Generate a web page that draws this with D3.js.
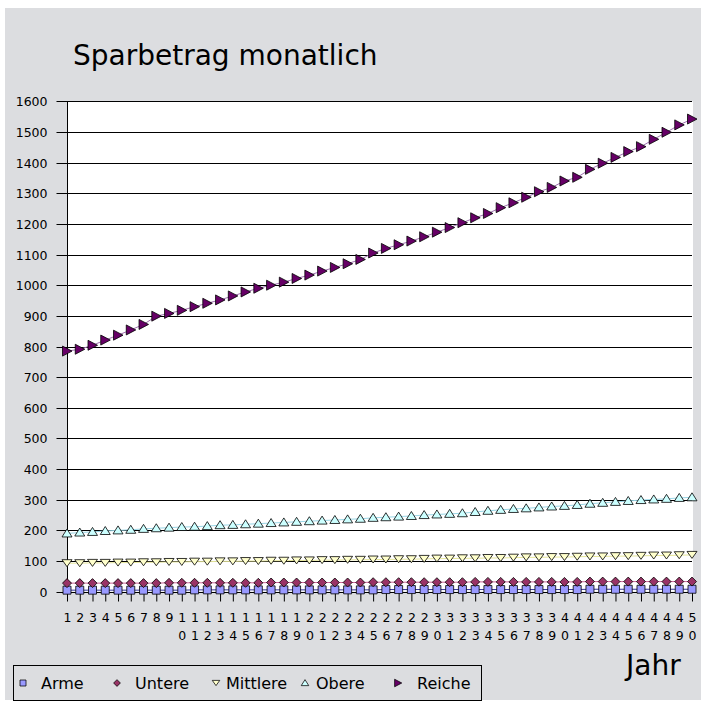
<!DOCTYPE html>
<html>
<head>
<meta charset="utf-8">
<script src="https://cdn.jsdelivr.net/npm/d3@7"></script>
<style>
body { margin: 0; background: #fff; }
text { font-family: "DejaVu Sans", sans-serif; fill: #000; }
</style>
</head>
<body>
<script>
// categories (Jahr 1..50)
let jahre = d3.range(1, 51);
let yTicks = [0, 100, 200, 300, 400, 500, 600, 700, 800, 900, 1000, 1100, 1200, 1300, 1400, 1500, 1600];

let arme = [5, 5, 5, 5, 5, 5, 5, 5, 5, 5, 6, 6, 6, 6, 6, 6, 6, 6, 6, 6, 6, 6, 6, 6, 6,
    7, 7, 7, 7, 7, 7, 7, 7, 7, 7, 7, 7, 7, 7, 7, 7, 8, 8, 8, 8, 8, 8, 8, 8, 8];
let untere = [28, 28, 28, 28, 28, 28, 28, 28, 29, 29, 29, 29, 29, 29, 29, 29, 30, 30, 30, 30, 30, 30, 30, 30, 31,
    31, 31, 31, 31, 31, 31, 31, 32, 32, 32, 32, 32, 32, 32, 32, 32, 33, 33, 33, 33, 33, 33, 33, 33, 33];
let mittlere = [93, 93, 94, 94, 95, 95, 96, 96, 97, 97, 98, 98, 99, 99, 100, 100, 101, 101, 102, 102, 103, 103, 104, 104, 105,
    105, 106, 106, 107, 108, 108, 109, 109, 110, 110, 111, 112, 112, 113, 113, 114, 115, 115, 116, 116, 117, 118, 118, 119, 120];
let obere = [190, 193, 195, 198, 200, 202, 205, 207, 209, 211, 212, 214, 217, 218, 220, 222, 224, 226, 228, 230, 232, 234, 236, 238, 241,
    243, 245, 247, 250, 252, 254, 256, 260, 264, 267, 270, 272, 275, 278, 280, 283, 287, 290, 293, 296, 299, 301, 303, 306, 308];
let reiche = [785, 791, 804, 821, 837, 854, 872, 899, 908, 918, 930, 941, 952, 965, 978, 990, 1000, 1010, 1022, 1033, 1046, 1058, 1070, 1084, 1105,
    1120, 1132, 1144, 1158, 1173, 1188, 1204, 1220, 1234, 1253, 1269, 1287, 1305, 1319, 1340, 1352, 1378, 1398, 1417, 1436, 1452, 1476, 1499, 1523, 1542];

let series = [
    {name: "Arme", values: arme, shape: "square", fill: "#9999ff", line: "#333399"},
    {name: "Untere", values: untere, shape: "diamond", fill: "#993366", line: "#cc6699"},
    {name: "Mittlere", values: mittlere, shape: "down", fill: "#ffffcc", line: "#e6e69a"},
    {name: "Obere", values: obere, shape: "up", fill: "#ccffff", line: "#99d6e6"},
    {name: "Reiche", values: reiche, shape: "right", fill: "#660066", line: "#a070b0"}
];

let size = {width: 701, height: 713};
let plot = {left: 67, right: 692, top: 101.3, bottom: 591.7};

let svg = d3.select("body").append("svg")
    .attr("width", size.width)
    .attr("height", size.height);

svg.append("rect")
    .attr("x", 5).attr("y", 8)
    .attr("width", 696).attr("height", 692)
    .attr("fill", "#dcdde0");

svg.append("rect")
    .attr("x", plot.left).attr("y", plot.top)
    .attr("width", plot.right - plot.left + 1).attr("height", plot.bottom - plot.top)
    .attr("fill", "#fff");

let x = d3.scalePoint()
    .domain(jahre)
    .range([plot.left, plot.right]);

let y = d3.scaleLinear()
    .domain([0, 1600])
    .range([plot.bottom, plot.top]);

// gridlines
svg.append("g")
    .selectAll("line")
    .data(yTicks)
    .join("line")
    .attr("x1", plot.left).attr("x2", plot.right)
    .attr("y1", d => Math.round(y(d)) + 0.5).attr("y2", d => Math.round(y(d)) + 0.5)
    .attr("stroke", "#000");

let yAxis = g => g
    .attr("transform", `translate(${plot.left + 0.5},0)`)
    .call(d3.axisLeft(y).tickValues(yTicks).tickFormat(d3.format("d")).tickSize(11).tickPadding(9).tickSizeOuter(0))
    .call(g => g.selectAll(".tick").attr("transform", d => `translate(0,${Math.round(y(d)) + 0.5})`))
    .call(g => g.selectAll(".tick text").attr("font-size", 12.5).attr("font-family", "DejaVu Sans").attr("fill", "#000"))
    .call(g => g.select(".domain").attr("d", `M0,${plot.top}V${Math.round(plot.bottom) + 0.5}`));

let xAxis = g => g
    .attr("transform", `translate(0,${Math.round(plot.bottom) + 0.5})`)
    .call(d3.axisBottom(x).tickSize(9).tickPadding(9).tickSizeOuter(0))
    .call(g => g.select(".domain").remove())
    .call(g => g.selectAll(".tick text").remove())
    .call(g => g.selectAll(".tick").append("text")
        .attr("font-size", 12.5)
        .attr("text-anchor", "middle")
        .selectAll("tspan")
        .data(d => String(d).split(""))
        .join("tspan")
        .attr("x", 0)
        .attr("y", (c, i) => 29.5 + i * 18)
        .text(c => c));

svg.append("g").call(xAxis);
svg.append("g").call(yAxis);

svg.append("line")
    .attr("x1", plot.left).attr("x2", plot.right)
    .attr("y1", Math.round(plot.bottom) + 0.5).attr("y2", Math.round(plot.bottom) + 0.5)
    .attr("stroke", "#000");

function marker(shape) {
    switch (shape) {
        case "square": return "M-4,-4H4V4H-4Z";
        case "diamond": return "M0,-4.5L4.5,0L0,4.5L-4.5,0Z";
        case "down": return "M-5,-3.5H5L0,3.5Z";
        case "up": return "M-5,3.5H5L0,-4.5Z";
        case "right": return "M-4.5,-5L5,0L-4.5,5Z";
    }
}

let line = d3.line()
    .x((d, i) => x(jahre[i]))
    .y(d => y(d));

series.forEach(s => {
    svg.append("path")
        .datum(s.values)
        .attr("fill", "none")
        .attr("stroke", s.line)
        .attr("stroke-width", 1)
        .attr("d", line);
});

series.forEach(s => {
    svg.append("g")
        .selectAll("path")
        .data(s.values)
        .join("path")
        .attr("transform", (d, i) => `translate(${x(jahre[i])},${y(d)})`)
        .attr("d", marker(s.shape))
        .attr("fill", s.fill)
        .attr("stroke", "#000")
        .attr("stroke-width", 0.8);
});

svg.append("text")
    .attr("x", 73).attr("y", 65)
    .attr("font-size", 28)
    .text("Sparbetrag monatlich");

svg.append("text")
    .attr("x", 626).attr("y", 675)
    .attr("font-size", 28)
    .text("Jahr");

// legend
let legend = svg.append("g");
legend.append("rect")
    .attr("x", 13.5).attr("y", 665.5)
    .attr("width", 468).attr("height", 35)
    .attr("fill", "none")
    .attr("stroke", "#000");

let legendMarkerX = [23, 117, 216, 305, 398];
let legendTextX = [41, 135, 226, 316, 417];

legend.selectAll("path")
    .data(series)
    .join("path")
    .attr("d", d => marker(d.shape))
    .attr("transform", (d, i) => `translate(${legendMarkerX[i]},683) scale(0.75)`)
    .attr("fill", d => d.fill)
    .attr("stroke", "#000")
    .attr("stroke-width", 1);

legend.selectAll("text")
    .data(series)
    .join("text")
    .attr("x", (d, i) => legendTextX[i])
    .attr("y", 689)
    .attr("font-size", 16)
    .text(d => d.name);
</script>
</body>
</html>
